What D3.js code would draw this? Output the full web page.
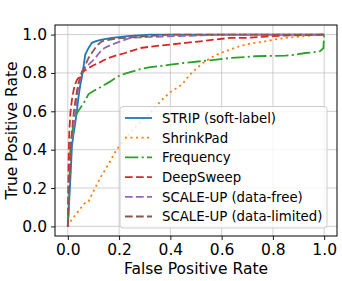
<!DOCTYPE html>
<html><head><meta charset="utf-8">
<script src="https://cdn.jsdelivr.net/npm/d3@7"></script>
<style>
html,body{margin:0;padding:0;background:#fff;}
svg{display:block;font-family:"DejaVu Sans",sans-serif;}
</style></head>
<body><svg id="c" width="342" height="281"></svg>
<script>
const xTicks = [0.0, 0.2, 0.4, 0.6, 0.8, 1.0];
const yTicks = [0.0, 0.2, 0.4, 0.6, 0.8, 1.0];
const seriesNames = ["STRIP (soft-label)", "ShrinkPad", "Frequency", "DeepSweep", "SCALE-UP (data-free)", "SCALE-UP (data-limited)"];
const seriesColors = ["#1f77b4", "#ff7f0e", "#2ca02c", "#d62728", "#9467bd", "#8c564b"];

const stripFpr = [0, 0.012, 0.016, 0.022, 0.029, 0.036, 0.042, 0.049, 0.055, 0.062, 0.068, 0.075, 0.081, 0.094, 0.11, 0.133, 0.15, 0.172, 0.2, 0.224, 0.26, 0.322, 0.5, 0.8, 1.0];
const stripTpr = [0, 0.3, 0.417, 0.48, 0.539, 0.61, 0.678, 0.74, 0.78, 0.84, 0.896, 0.915, 0.93, 0.957, 0.966, 0.974, 0.978, 0.983, 0.987, 0.991, 0.995, 1.0, 1.0, 1.0, 1.0];

const shrinkFpr = [0, 0.01, 0.03, 0.05, 0.065, 0.081, 0.095, 0.107, 0.125, 0.146, 0.165, 0.19, 0.22, 0.25, 0.28, 0.31, 0.34, 0.367, 0.4, 0.445, 0.475, 0.504, 0.53, 0.556, 0.595, 0.614, 0.634, 0.66, 0.692, 0.73, 0.77, 0.81, 0.848, 0.88, 0.913, 0.95, 0.99, 1.0];
const shrinkTpr = [0, 0.026, 0.06, 0.095, 0.12, 0.13, 0.17, 0.2, 0.25, 0.296, 0.34, 0.4, 0.45, 0.5, 0.54, 0.58, 0.62, 0.66, 0.7, 0.739, 0.79, 0.826, 0.855, 0.878, 0.904, 0.913, 0.922, 0.935, 0.948, 0.957, 0.965, 0.975, 0.983, 0.987, 0.991, 0.995, 1.0, 1.0];

const freqFpr = [0, 0.005, 0.01, 0.018, 0.029, 0.045, 0.062, 0.081, 0.1, 0.12, 0.145, 0.166, 0.192, 0.22, 0.257, 0.283, 0.322, 0.36, 0.4, 0.45, 0.517, 0.58, 0.634, 0.69, 0.731, 0.79, 0.848, 0.89, 0.926, 0.96, 0.984, 0.997, 1.0];
const freqTpr = [0, 0.15, 0.417, 0.5, 0.574, 0.61, 0.643, 0.69, 0.706, 0.72, 0.74, 0.756, 0.78, 0.795, 0.809, 0.82, 0.83, 0.836, 0.843, 0.852, 0.861, 0.87, 0.878, 0.883, 0.887, 0.889, 0.89, 0.896, 0.904, 0.908, 0.913, 0.93, 1.0];

const deepFpr = [0, 0.003, 0.006, 0.01, 0.016, 0.023, 0.03, 0.036, 0.042, 0.052, 0.062, 0.081, 0.1, 0.12, 0.14, 0.159, 0.19, 0.224, 0.283, 0.34, 0.4, 0.46, 0.517, 0.58, 0.634, 0.692, 0.77, 0.848, 0.92, 0.99, 1.0];
const deepTpr = [0, 0.35, 0.5, 0.591, 0.66, 0.713, 0.745, 0.765, 0.774, 0.795, 0.809, 0.826, 0.84, 0.852, 0.866, 0.878, 0.892, 0.904, 0.93, 0.94, 0.948, 0.957, 0.965, 0.975, 0.983, 0.983, 0.99, 0.995, 0.997, 1.0, 1.0];

const freeFpr = [0, 0.008, 0.012, 0.018, 0.023, 0.03, 0.036, 0.042, 0.049, 0.055, 0.068, 0.081, 0.094, 0.107, 0.12, 0.133, 0.15, 0.172, 0.2, 0.224, 0.244, 0.3, 0.4, 0.5, 0.6, 0.8, 1.0];
const freeTpr = [0, 0.3, 0.4, 0.46, 0.504, 0.6, 0.68, 0.73, 0.775, 0.809, 0.826, 0.843, 0.86, 0.878, 0.9, 0.922, 0.935, 0.948, 0.962, 0.974, 0.983, 0.987, 0.991, 0.995, 1.0, 1.0, 1.0];

const limitedFpr = [0, 0.008, 0.012, 0.018, 0.023, 0.03, 0.036, 0.042, 0.049, 0.055, 0.068, 0.081, 0.094, 0.107, 0.12, 0.133, 0.15, 0.166, 0.19, 0.224, 0.26, 0.32, 0.4, 0.6, 1.0];
const limitedTpr = [0, 0.3, 0.42, 0.52, 0.591, 0.66, 0.71, 0.75, 0.78, 0.8, 0.84, 0.878, 0.905, 0.93, 0.95, 0.965, 0.97, 0.974, 0.979, 0.983, 0.987, 0.993, 1.0, 1.0, 1.0];

const seriesFpr = [stripFpr, shrinkFpr, freqFpr, deepFpr, freeFpr, limitedFpr];
const seriesTpr = [stripTpr, shrinkTpr, freqTpr, deepTpr, freeTpr, limitedTpr];
const seriesDash = [null, "2.1,3.4", "13.3,3.3,2.1,3.3", "7.7,3.3", "7.7,3.3", "7.7,3.3"];

const svg = d3.select("#c");
const L = 55, R = 337, T = 25, B = 236;
const x = d3.scaleLinear().domain([-0.05, 1.05]).range([L, R]);
const y = d3.scaleLinear().domain([-0.05, 1.05]).range([B, T]);

// grid
const g = svg.append("g");
g.selectAll(".gx").data(xTicks).enter().append("line")
  .attr("x1", d => x(d)).attr("x2", d => x(d)).attr("y1", T).attr("y2", B)
  .attr("stroke", "#b0b0b0").attr("stroke-opacity", 0.6).attr("stroke-width", 1);
g.selectAll(".gy").data(yTicks).enter().append("line")
  .attr("y1", d => y(d)).attr("y2", d => y(d)).attr("x1", L).attr("x2", R)
  .attr("stroke", "#b0b0b0").attr("stroke-opacity", 0.6).attr("stroke-width", 1);

// lines
const clip = svg.append("clipPath").attr("id", "clip").append("rect")
  .attr("x", L).attr("y", T).attr("width", R - L).attr("height", B - T);
const lg = svg.append("g").attr("clip-path", "url(#clip)");
seriesNames.forEach((n, i) => {
  const pts = seriesFpr[i].map((f, j) => [f, seriesTpr[i][j]]);
  const line = d3.line().x(d => x(d[0])).y(d => y(d[1]));
  const p = lg.append("path").attr("d", line(pts)).attr("fill", "none")
    .attr("stroke", seriesColors[i]).attr("stroke-width", 1.8);
  if (seriesDash[i]) p.attr("stroke-dasharray", seriesDash[i]);
});

// axes
const xAxis = d3.axisBottom(x).tickValues(xTicks).tickFormat(d3.format(".1f")).tickSizeOuter(0).tickSize(4).tickPadding(3.5);
const yAxis = d3.axisLeft(y).tickValues(yTicks).tickFormat(d3.format(".1f")).tickSizeOuter(0).tickSize(4).tickPadding(4);
const xa = svg.append("g").attr("transform", `translate(0,${B})`).call(xAxis);
const ya = svg.append("g").attr("transform", `translate(${L},0)`).call(yAxis);
[xa, ya].forEach(a => {
  a.select(".domain").remove();
  a.selectAll("text").attr("font-size", 15.5).attr("fill", "#000").attr("font-family", "DejaVu Sans");
  a.selectAll("line").attr("stroke", "#000").attr("stroke-width", 0.9);
});
// spines
svg.append("rect").attr("x", L).attr("y", T).attr("width", R - L).attr("height", B - T)
  .attr("fill", "none").attr("stroke", "#000").attr("stroke-width", 1);

// labels
svg.append("text").attr("x", (L + R) / 2).attr("y", 273.5).attr("text-anchor", "middle")
  .attr("font-size", 15.5).text("False Positive Rate");
svg.append("text").attr("transform", `translate(17,${(T + B) / 2}) rotate(-90)`).attr("text-anchor", "middle")
  .attr("font-size", 15.5).text("True Positive Rate");

// legend
const lx = 120, ly = 106.5, lw = 207, lh = 121.5;
svg.append("rect").attr("x", lx).attr("y", ly).attr("width", lw).attr("height", lh).attr("rx", 3)
  .attr("fill", "#fff").attr("fill-opacity", 0.8).attr("stroke", "#cccccc").attr("stroke-width", 1);
seriesNames.forEach((n, i) => {
  const cy = 118 + i * 19.7;
  const l = svg.append("line").attr("x1", 125).attr("x2", 152).attr("y1", cy).attr("y2", cy)
    .attr("stroke", seriesColors[i]).attr("stroke-width", 1.8);
  if (seriesDash[i]) l.attr("stroke-dasharray", seriesDash[i]);
  svg.append("text").attr("x", 162).attr("y", cy + 4.8).attr("font-size", 13.3).text(n);
});
</script></body></html>
